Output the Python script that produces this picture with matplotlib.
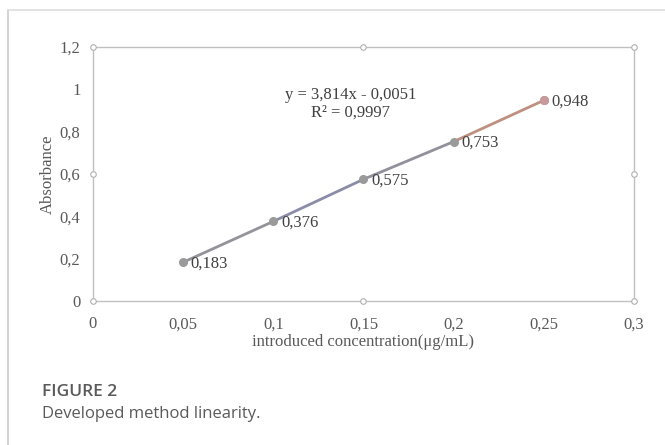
import numpy as np
import matplotlib
matplotlib.use("Agg")
import matplotlib.pyplot as plt
from matplotlib.lines import Line2D

conc = [0.05, 0.10, 0.15, 0.20, 0.25]
absorb = [0.183, 0.376, 0.575, 0.753, 0.948]
labels = ["0,183", "0,376", "0,575", "0,753", "0,948"]
xticks = [0, 0.05, 0.1, 0.15, 0.2, 0.25, 0.3]
xticklabels = ["0", "0,05", "0,1", "0,15", "0,2", "0,25", "0,3"]
yticks = [0, 0.2, 0.4, 0.6, 0.8, 1.0, 1.2]
yticklabels = ["0", "0,2", "0,4", "0,6", "0,8", "1", "1,2"]
seg_colors = ["#939399", "#8a8ca8", "#93909c", "#bf8f80"]

plt.rcParams.update({"font.family": ["Liberation Serif", "DejaVu Serif"]})
fig = plt.figure(figsize=(6.65, 4.45), dpi=100)
ax = fig.add_axes([0.1398, 0.3236, 0.8136, 0.5708])

# line segments, slightly tinted like the original
for i in range(len(conc) - 1):
    ax.plot(conc[i:i+2], absorb[i:i+2], color=seg_colors[i], lw=2.0, solid_capstyle="round", zorder=3)
ax.plot(conc, absorb, "o", color="#9a9a9a", ms=5.5, zorder=4)
ax.plot(conc[-1:], absorb[-1:], "o", color="#c99a9a", ms=5.5, zorder=5)
for x, y, t in zip(conc, absorb, labels):
    ax.annotate(t, (x, y), xytext=(5.5, -1), textcoords="offset points", ha="left", va="center",
                fontsize=12, color="#404040")

ax.text(0.143, 0.973, "y = 3,814x - 0,0051", ha="center", va="center", fontsize=12, color="#404040")
ax.text(0.143, 0.888, "R² = 0,9997", ha="center", va="center", fontsize=12, color="#404040")

ax.set_xlim(0, 0.3); ax.set_ylim(0, 1.2)
ax.set_xticks(xticks); ax.set_xticklabels(xticklabels)
ax.set_yticks(yticks); ax.set_yticklabels(yticklabels)
ax.tick_params(length=0, labelsize=12, colors="#595959")
ax.tick_params(axis="x", pad=11)
ax.tick_params(axis="y", pad=9)
for s in ax.spines.values():
    s.set_color("#c0c0c0"); s.set_linewidth(1.0)
ax.set_xlabel("introduced concentration(μg/mL)", fontsize=12, color="#595959", labelpad=1)
ax.set_ylabel("Absorbance", fontsize=12, color="#595959", labelpad=3)

# selection handles of the chart area
hx = [0, 0.15, 0.3, 0, 0.3, 0, 0.15, 0.3]
hy = [0, 0, 0, 0.6, 0.6, 1.2, 1.2, 1.2]
ax.plot(hx, hy, "o", ms=4, mfc="white", mec="#b0b0b0", mew=0.8, ls="none", clip_on=False, zorder=6)

# outer frame lines
fig.add_artist(Line2D([8/665, 8/665], [0, 1 - 10/445], color="#cccccc", lw=1.2))
fig.add_artist(Line2D([8/665, 1], [1 - 10/445, 1 - 10/445], color="#dddddd", lw=1.2))

fig.text(42/665, 1 - 392/445, "FIGURE 2", fontsize=12.5, color="#5a5a5a", family="Open Sans",
         fontweight="semibold", va="center")
fig.text(42/665, 1 - 414/445, "Developed method linearity.", fontsize=12, color="#5a5a5a",
         family="Open Sans", va="center")

fig.savefig("out.png", dpi=100)
